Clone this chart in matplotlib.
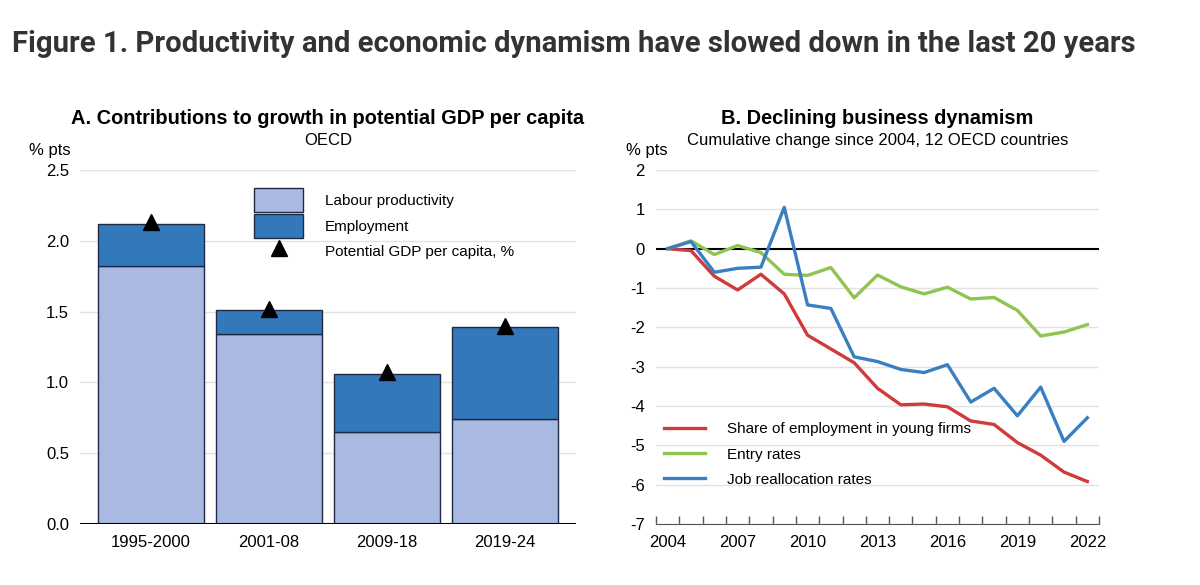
import numpy as np
import matplotlib.pyplot as plt
from matplotlib.patches import Patch
from matplotlib.lines import Line2D

# Panel A data
periods      = ["1995-2000", "2001-08", "2009-18", "2019-24"]
labour_prod  = [1.82, 1.34, 0.65, 0.74]
employment   = [0.30, 0.17, 0.41, 0.65]
potential_pc = [2.13, 1.52, 1.07, 1.40]

# Panel B data
years        = list(range(2004, 2023))
young_share  = [0.0, -0.05, -0.70, -1.05, -0.65, -1.15, -2.20, -2.55, -2.90, -3.55,
                -3.97, -3.95, -4.02, -4.38, -4.47, -4.93, -5.25, -5.68, -5.92]
entry_rates  = [0.0, 0.20, -0.15, 0.08, -0.10, -0.65, -0.68, -0.48, -1.25, -0.67,
                -0.97, -1.15, -0.98, -1.28, -1.24, -1.57, -2.22, -2.12, -1.93]
realloc      = [0.0, 0.18, -0.60, -0.50, -0.47, 1.05, -1.43, -1.52, -2.75, -2.87,
                -3.07, -3.15, -2.95, -3.90, -3.55, -4.25, -3.52, -4.90, -4.30]

# Style
plt.rcParams.update({
    "font.family": ["Liberation Sans", "DejaVu Sans"],
    "font.size": 11,
})

C_LIGHT = "#a9b9e1"
C_DARK  = "#3478bc"
C_EDGE  = "#1e2a44"
C_RED   = "#d03a3a"
C_GREEN = "#8fc452"
C_BLUE  = "#3a7fc1"
C_GRID  = "#e2e2e2"

fig = plt.figure(figsize=(12, 5.85), dpi=100)

fig.text(0.01, 0.925, "Figure 1. Productivity and economic dynamism have slowed down in the last 20 years",
         fontsize=21.1, fontweight="bold", family="Roboto", color="#333333", va="center")

# ---------------- Panel A ----------------
axA = fig.add_axes([80 / 1200, 61 / 585, 496 / 1200, 354 / 585])
x = np.arange(len(periods))
axA.bar(x, labour_prod, width=0.9, color=C_LIGHT, edgecolor=C_EDGE, lw=1, zorder=2)
axA.bar(x, employment, width=0.9, bottom=labour_prod, color=C_DARK, edgecolor=C_EDGE,
        lw=1, zorder=2)
axA.plot(x, potential_pc, ls="none", marker="^", ms=11, color="black", zorder=3)

axA.set_xlim(-0.6, 3.6)
axA.set_ylim(0, 2.5)
axA.set_yticks(np.arange(0, 2.51, 0.5))
axA.set_yticklabels([f"{v:.1f}" for v in np.arange(0, 2.51, 0.5)])
axA.set_xticks(x)
axA.set_xticklabels(periods)
axA.tick_params(axis="both", length=0, labelsize=12, pad=8)
axA.grid(axis="y", color=C_GRID, lw=1, zorder=0)
axA.axhline(0, color="black", lw=1.5, zorder=4)
for s in axA.spines.values():
    s.set_visible(False)

axA.set_title("A. Contributions to growth in potential GDP per capita",
              fontsize=14.4, fontweight="bold", pad=33)
axA.text(0.5, 1.062, "OECD", transform=axA.transAxes, ha="center", va="bottom", fontsize=12)
axA.text(-0.06, 1.035, "% pts", transform=axA.transAxes, ha="center", va="bottom", fontsize=12)

handlesA = [Patch(facecolor=C_LIGHT, edgecolor=C_EDGE, lw=1),
            Patch(facecolor=C_DARK, edgecolor=C_EDGE, lw=1),
            Line2D([], [], ls="none", marker="^", ms=11, color="black")]
axA.legend(handlesA, ["Labour productivity", "Employment", "Potential GDP per capita, %"],
           loc="upper left", bbox_to_anchor=(0.351, 0.949), frameon=False, fontsize=11,
           handlelength=3.2, handleheight=2.0, labelspacing=0.15, handletextpad=1.45,
           borderpad=0, borderaxespad=0)

# ---------------- Panel B ----------------
axB = fig.add_axes([656 / 1200, 61 / 585, 443 / 1200, 354 / 585])
xi = np.arange(len(years))
axB.plot(xi, young_share, color=C_RED, lw=2.4, zorder=3, label="Share of employment in young firms")
axB.plot(xi, entry_rates, color=C_GREEN, lw=2.4, zorder=3, label="Entry rates")
axB.plot(xi, realloc, color=C_BLUE, lw=2.4, zorder=4, label="Job reallocation rates")
axB.axhline(0, color="black", lw=1.5, zorder=2)

axB.set_xlim(-0.5, len(years) - 0.5)
axB.set_ylim(-7, 2)
axB.set_yticks(range(-7, 3))
axB.set_yticklabels([str(v) for v in range(-7, 3)])
axB.grid(axis="y", color=C_GRID, lw=1, zorder=0)
axB.set_xticks(xi[::3])
axB.set_xticklabels([str(y) for y in years[::3]])
axB.set_xticks(np.arange(-0.5, len(years), 1.0), minor=True)
axB.tick_params(axis="x", which="major", length=0, labelsize=12, pad=8)
axB.tick_params(axis="x", which="minor", length=6, direction="in", color="#555555", width=1)
axB.tick_params(axis="y", length=0, labelsize=12, pad=8)
for k in ["top", "right", "left"]:
    axB.spines[k].set_visible(False)
axB.spines["bottom"].set_color("#555555")

axB.set_title("B. Declining business dynamism", fontsize=14.4, fontweight="bold", pad=33)
axB.text(0.5, 1.062, "Cumulative change since 2004, 12 OECD countries", transform=axB.transAxes,
         ha="center", va="bottom", fontsize=12)
axB.text(-0.02, 1.035, "% pts", transform=axB.transAxes, ha="center", va="bottom", fontsize=12)

axB.legend(loc="lower left", bbox_to_anchor=(0.018, 0.105), frameon=False, fontsize=11,
           handlelength=2.7, labelspacing=0.74, handletextpad=1.4, borderpad=0, borderaxespad=0)

fig.savefig("out.png", dpi=100)
